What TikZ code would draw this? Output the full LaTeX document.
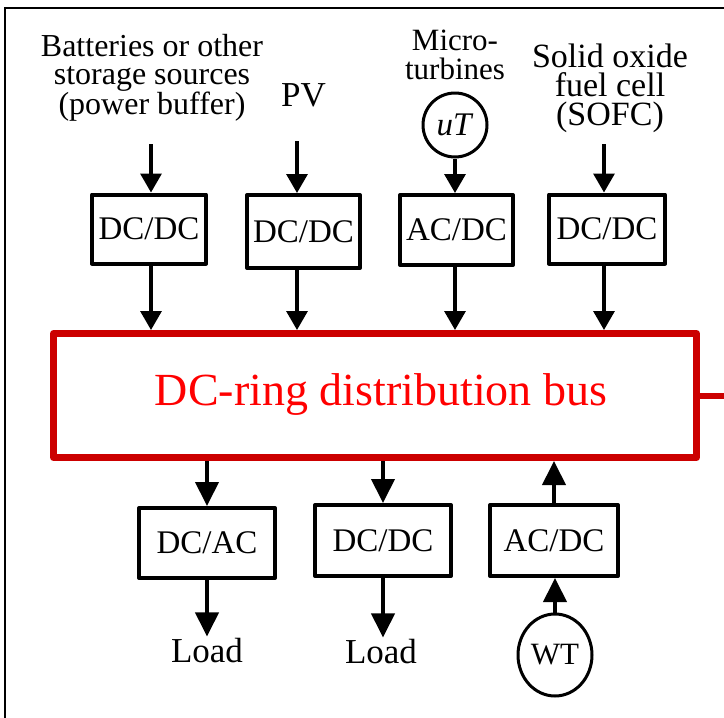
\documentclass[tikz,border=0pt]{standalone}
\usepackage{fontspec}
\setmainfont{Liberation Serif}
\usetikzlibrary{arrows.meta,shapes.geometric}
\definecolor{busred}{RGB}{204,0,0}
\definecolor{txtred}{RGB}{255,0,0}
\begin{document}
\begin{tikzpicture}[x=1pt,y=-1pt,
  conv/.style={draw, line width=4pt, line join=round, inner sep=0pt, font=\fontsize{33}{36}\selectfont},
  arr/.style={line width=3.3pt, -{Triangle[length=19pt,width=21pt]}},
  bigarr/.style={line width=4pt, -{Triangle[length=24pt,width=23pt]}},
  lbl/.style={align=center, inner sep=0pt, font=\fontsize{32}{28}\selectfont},
  src/.style={draw, line width=3pt, inner sep=0pt}]
\useasboundingbox (0,0) rectangle (724,718);
\clip (0,0) rectangle (724,718);
\draw[line width=2pt] (5,740) -- (5,8) -- (740,8);

% source labels
\node[lbl] (lab1) at (152,78) {Batteries or other\\storage sources\\(power buffer)};
\node[lbl, font=\fontsize{35}{30}\selectfont] (lab2) at (303.5,95.5) {PV};
\node[lbl, font=\fontsize{31}{29}\selectfont] (lab3) at (455,55) {Micro-\\turbines};
\node[lbl, font=\fontsize{34}{29}\selectfont] (lab4) at (610,88) {Solid oxide\\fuel cell\\(SOFC)};
\node[src, circle, minimum size=64pt, font=\fontsize{33}{36}\selectfont] (ut) at (455,125) {\textit{uT}};

% top converters
\node[conv, minimum width=114pt, minimum height=69pt] (b1) at (149,229) {DC/DC};
\node[conv, minimum width=113pt, minimum height=73pt] (b2) at (303.5,231.5) {DC/DC};
\node[conv, minimum width=113pt, minimum height=70pt] (b3) at (456.5,230) {AC/DC};
\node[conv, minimum width=116pt, minimum height=69pt] (b4) at (607,229) {DC/DC};

% bus
\node[draw=busred, line width=7pt, line join=round, minimum width=643pt, minimum height=124pt, inner sep=0pt] (bus) at (375,395.5) {};
\node[text=txtred, inner sep=0pt, font=\fontsize{46}{50}\selectfont] (bustxt) at (381,395) {DC-ring distribution bus};
\coordinate (busend) at (735,395.5);
\draw[busred, line width=6pt] (bus.east) -- (busend);

% bottom converters
\node[conv, minimum width=136pt, minimum height=70pt] (b5) at (207,543) {DC/AC};
\node[conv, minimum width=136pt, minimum height=71pt] (b6) at (383,540.5) {DC/DC};
\node[conv, minimum width=128pt, minimum height=71pt] (b7) at (554,540.5) {AC/DC};

\node[inner sep=2pt, font=\fontsize{35}{38}\selectfont] (load1) at (207,651) {Load};
\node[inner sep=2pt, font=\fontsize{35}{38}\selectfont] (load2) at (381,652) {Load};
\node[src, ellipse, minimum width=74pt, minimum height=82pt, font=\fontsize{31}{34}\selectfont] (wt) at (555,655) {WT};

% arrows into top converters
\coordinate (s1) at (151,144);
\coordinate (s2) at (297,141);
\coordinate (s4) at (604,144);
\draw[arr] (s1) -- (s1 |- b1.north);
\draw[arr] (s2) -- (s2 |- b2.north);
\draw[arr] (ut.south) -- (ut.south |- b3.north);
\draw[arr] (s4) -- (s4 |- b4.north);

% converters to bus
\draw[arr] (s1 |- b1.south) -- (s1 |- bus.north);
\draw[arr] (s2 |- b2.south) -- (s2 |- bus.north);
\draw[arr] (ut.south |- b3.south) -- (ut.south |- bus.north);
\draw[arr] (s4 |- b4.south) -- (s4 |- bus.north);

% bus to bottom
\draw[bigarr] (b5.north |- bus.south) -- (b5.north);
\draw[bigarr] (b6.north |- bus.south) -- (b6.north);
\draw[bigarr] (b7.north) -- (b7.north |- bus.south);
\draw[bigarr] (b5.south) -- (b5.south |- load1.north);
\draw[bigarr] (b6.south) -- (b6.south |- load2.north);
\draw[bigarr] (wt.north) -- (wt.north |- b7.south);
\end{tikzpicture}
\end{document}
